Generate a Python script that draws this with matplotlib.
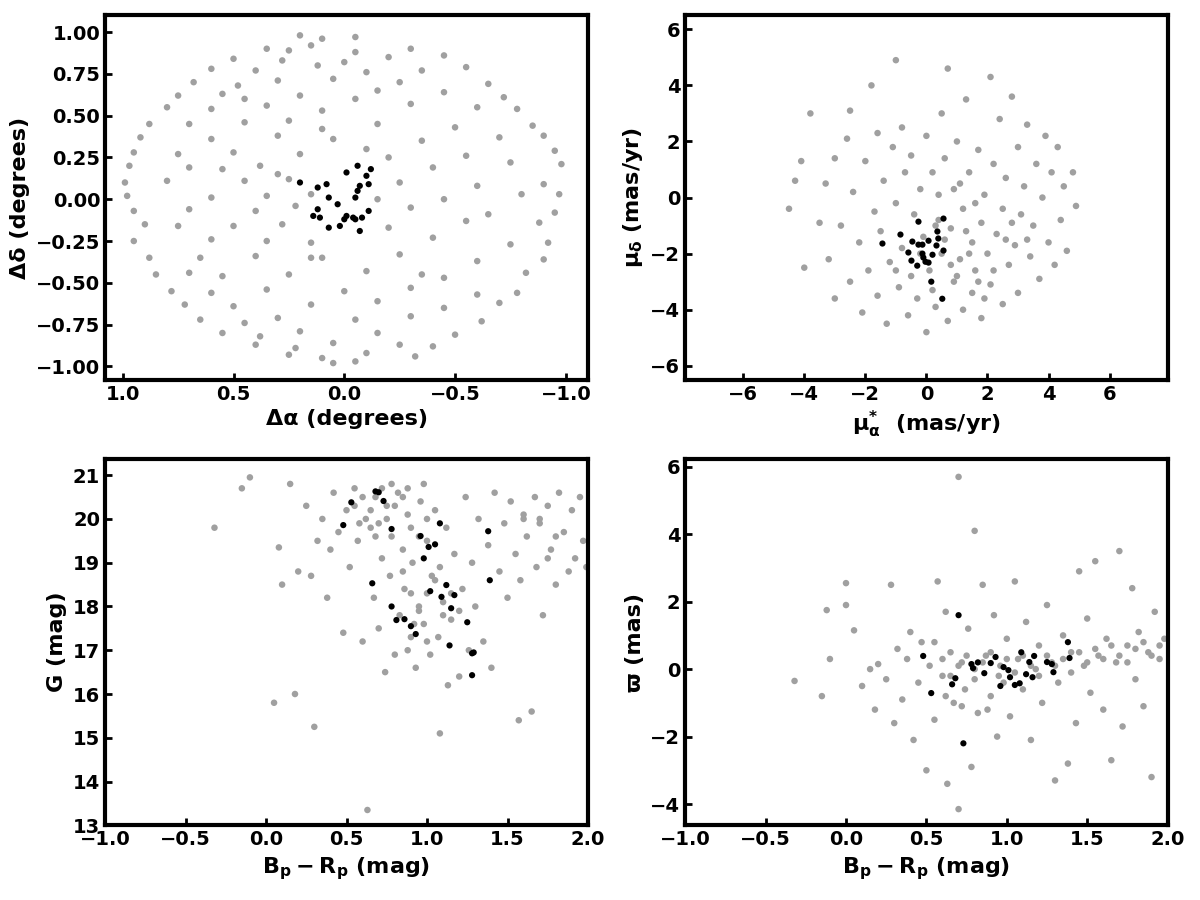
import numpy as np
import matplotlib
matplotlib.use("Agg")
import matplotlib.pyplot as plt

plt.rcParams['font.weight'] = 'bold'
plt.rcParams['axes.labelweight'] = 'bold'
plt.rcParams['mathtext.default'] = 'bf'

# ---------- panel 1: positions (gray field, black members) ----------
pos_field = [
(-0.05,0.97),(0.1,0.96),(0.2,0.98),(-0.3,0.9),(0.25,0.89),(0.15,0.92),(-0.05,0.88),(0.35,0.9),
(0.5,0.84),(-0.45,0.86),(0.28,0.83),(-0.2,0.85),(0.0,0.82),(0.6,0.78),(0.4,0.77),(-0.55,0.79),
(-0.1,0.76),(0.12,0.8),(-0.35,0.77),(0.68,0.7),(0.3,0.71),(-0.65,0.69),(0.05,0.72),(-0.25,0.7),
(0.48,0.68),(0.75,0.62),(0.55,0.63),(-0.72,0.61),(0.2,0.62),(-0.45,0.64),(-0.05,0.6),(0.8,0.55),
(0.35,0.56),(-0.78,0.54),(0.1,0.53),(-0.3,0.57),(0.6,0.54),(-0.6,0.55),(0.88,0.45),(0.45,0.46),
(-0.85,0.44),(0.25,0.47),(-0.15,0.45),(-0.5,0.43),(0.7,0.45),(0.92,0.37),(0.6,0.36),(-0.9,0.38),
(0.05,0.36),(-0.35,0.35),(0.3,0.38),(-0.7,0.37),(0.95,0.28),(0.2,0.27),(-0.95,0.29),(0.5,0.28),
(-0.55,0.26),(-0.1,0.3),(0.75,0.27),(0.97,0.2),(0.7,0.19),(-0.98,0.21),(0.38,0.2),(-0.4,0.19),
(-0.75,0.22),(0.55,0.18),(0.99,0.1),(0.45,0.11),(-0.9,0.09),(0.25,0.12),(-0.25,0.1),(-0.6,0.08),
(0.8,0.11),(0.98,0.02),(0.6,0.01),(-0.97,0.03),(0.35,0.02),(-0.45,0.0),(-0.8,0.03),(0.15,0.03),
(0.95,-0.07),(0.7,-0.06),(-0.95,-0.08),(0.4,-0.07),(-0.3,-0.05),(-0.65,-0.09),(0.22,-0.04),
(0.9,-0.15),(0.5,-0.16),(-0.88,-0.14),(0.28,-0.15),(-0.2,-0.17),(-0.55,-0.13),(0.75,-0.16),
(0.95,-0.25),(0.6,-0.24),(-0.92,-0.26),(0.35,-0.25),(-0.4,-0.23),(-0.75,-0.27),(0.15,-0.26),
(0.88,-0.35),(0.4,-0.34),(-0.9,-0.36),(0.1,-0.35),(-0.25,-0.33),(-0.6,-0.37),(0.65,-0.35),
(0.85,-0.45),(0.55,-0.46),(-0.82,-0.44),(0.25,-0.45),(-0.45,-0.47),(-0.1,-0.43),(0.7,-0.44),
(0.78,-0.55),(0.35,-0.54),(-0.78,-0.56),(0.0,-0.55),(-0.3,-0.53),(-0.6,-0.57),(0.6,-0.56),
(0.72,-0.63),(0.5,-0.64),(-0.7,-0.62),(0.15,-0.63),(-0.45,-0.65),(-0.15,-0.61),(0.65,-0.72),
(0.3,-0.71),(-0.62,-0.73),(-0.05,-0.72),(-0.3,-0.7),(0.45,-0.74),(0.55,-0.8),(0.2,-0.79),
(-0.5,-0.81),(-0.15,-0.8),(0.38,-0.82),(0.4,-0.87),(0.05,-0.86),(-0.4,-0.88),(-0.25,-0.87),
(0.22,-0.89),(0.25,-0.93),(-0.1,-0.92),(-0.32,-0.94),(0.1,-0.95),(0.05,-0.98),(-0.05,-0.97),
(0.45,0.6),(-0.15,0.65),(0.1,0.42),(-0.2,0.25),(0.15,-0.35),(-0.35,-0.45),(0.3,0.15),(-0.15,0.0),
]
mem_dra = [0.20,0.12,0.08,-0.01,-0.06,-0.10,-0.12,-0.11,-0.07,-0.06,-0.05,0.07,0.03,0.12,0.14,0.11,0.07,0.02,0.00,-0.01,-0.04,-0.05,-0.08,-0.11,-0.07]
mem_ddec = [0.10,0.07,0.09,0.16,0.20,0.14,0.18,0.09,0.08,0.05,0.01,0.01,-0.03,-0.06,-0.10,-0.11,-0.17,-0.16,-0.12,-0.10,-0.11,-0.12,-0.11,-0.07,-0.19]

# ---------- panel 2: proper motions ----------
pm_field = [
(-4.5,-0.4),(-4.3,0.6),(-4.1,1.3),(-4.0,-2.5),(-3.8,3.0),(-3.5,-0.9),(-3.3,0.5),(-3.2,-2.2),(-3.0,1.4),
(-3.0,-3.6),(-2.8,-1.0),(-2.6,2.1),(-2.5,3.1),(-2.5,-3.0),(-2.4,0.2),(-2.2,-1.6),(-2.1,-4.1),(-2.0,1.3),
(-1.9,-2.6),(-1.8,4.0),(-1.7,-0.5),(-1.6,2.3),(-1.6,-3.5),(-1.5,-1.2),(-1.4,0.6),(-1.3,-4.5),(-1.2,-2.3),
(-1.1,1.8),(-1.0,4.9),(-1.0,-0.2),(-0.9,-3.2),(-0.8,2.5),(-0.8,-1.8),(-0.7,0.9),(-0.6,-4.2),(-0.5,-2.8),
(-0.5,1.5),(-0.4,-0.6),(-0.3,-3.6),(-0.2,0.3),(-0.1,-1.4),(0.0,2.2),(0.0,-4.8),(0.1,-2.6),(0.2,0.9),
(0.3,-3.9),(0.4,-0.8),(0.5,3.0),(0.5,-2.0),(0.6,1.4),(0.7,4.6),(0.7,-4.4),(0.8,-1.1),(0.9,0.3),(0.9,-3.0),
(1.0,2.0),(1.1,-2.2),(1.2,-0.4),(1.2,-4.0),(1.3,3.5),(1.4,0.9),(1.5,-1.6),(1.5,-3.4),(1.6,-2.6),
(1.7,1.7),(1.8,-0.9),(1.8,-4.3),(1.9,0.1),(2.0,-2.0),(2.1,4.3),(2.1,-3.1),(2.2,1.2),(2.3,-1.3),
(2.4,2.8),(2.5,-3.8),(2.5,-0.4),(2.6,0.7),(2.7,-2.4),(2.8,3.6),(2.9,-1.7),(3.0,1.8),(3.0,-3.4),
(3.1,-0.6),(3.2,0.4),(3.3,2.6),(3.4,-2.1),(3.5,-1.0),(3.6,1.2),(3.7,-2.9),(3.8,0.0),(3.9,2.2),
(4.0,-1.6),(4.1,0.9),(4.2,-2.4),(4.3,1.8),(4.4,-0.8),(4.5,0.4),(4.6,-1.9),(4.8,0.9),(4.9,-0.3),
(0.3,-1.0),(0.6,-1.5),(1.0,-2.8),(1.4,-2.0),(1.7,-3.0),(2.2,-2.6),(0.8,-2.4),(1.3,-1.2),(2.6,-1.5),
(-0.2,-2.0),(0.2,-3.3),(1.9,-3.6),(2.8,-0.9),(1.1,0.5),(-1.0,-2.6),(3.3,-1.5),(0.4,0.1),(1.6,-0.2),
]
mem_pmra = [-1.44,-0.85,-0.26,0.56,-0.46,-0.26,-0.13,-0.59,-0.49,-0.30,-0.13,-0.10,-0.03,0.07,0.07,0.33,0.39,0.36,0.56,0.20,0.16,0.52]
mem_pmdec = [-1.64,-1.32,-0.86,-0.75,-1.57,-1.68,-1.68,-1.96,-2.25,-2.43,-2.00,-2.14,-2.29,-2.32,-1.54,-1.71,-1.46,-1.21,-1.89,-2.04,-3.00,-3.61]

# ---------- panel 3: colour-magnitude ----------
cmd_field = [
(-0.32,19.8),(-0.15,20.7),(-0.1,20.95),(0.05,15.8),(0.08,19.35),(0.1,18.5),(0.15,20.8),(0.18,16.0),
(0.2,18.8),(0.25,20.3),(0.28,18.7),(0.3,15.25),(0.32,19.5),(0.35,20.0),(0.38,18.2),(0.4,19.3),
(0.42,20.6),(0.45,19.7),(0.48,17.4),(0.5,20.2),(0.52,18.9),(0.55,20.7),(0.57,19.5),(0.6,17.2),
(0.62,20.0),(0.63,13.35),(0.65,19.8),(0.67,18.2),(0.68,20.5),(0.7,17.5),(0.72,19.1),(0.74,16.5),
(0.75,20.3),(0.77,18.7),(0.78,19.6),(0.8,16.9),(0.82,20.6),(0.83,17.8),(0.85,19.3),(0.86,18.4),
(0.88,20.1),(0.9,17.3),(0.91,19.0),(0.93,16.6),(0.95,18.0),(0.96,20.4),(0.98,17.6),(1.0,19.5),
(1.02,16.9),(1.03,18.7),(1.05,20.2),(1.07,17.3),(1.08,15.1),(1.1,18.1),(1.12,19.8),(1.13,16.2),
(1.15,17.7),(1.17,19.2),(1.2,16.4),(1.22,18.4),(1.24,20.5),(1.26,17.0),(1.28,19.0),(1.3,18.0),
(1.32,20.0),(1.35,17.2),(1.38,19.4),(1.4,16.6),(1.42,20.6),(1.45,18.8),(1.48,19.9),(1.5,18.2),
(1.52,20.4),(1.55,19.2),(1.57,15.4),(1.58,18.6),(1.6,20.1),(1.62,19.6),(1.65,15.6),(1.67,20.5),
(1.68,18.9),(1.7,19.9),(1.72,17.8),(1.75,20.3),(1.77,19.3),(1.8,18.5),(1.82,20.6),(1.85,19.7),
(1.88,18.8),(1.9,20.2),(1.92,19.1),(1.95,20.5),(1.97,19.5),(1.99,18.9),
(0.55,20.3),(0.6,20.5),(0.65,20.2),(0.7,19.9),(0.75,20.0),(0.8,20.3),(0.85,20.5),(0.9,19.8),
(0.95,19.6),(1.0,20.0),(0.58,19.9),(0.68,19.6),(0.72,20.7),(0.78,20.8),(0.88,20.7),(0.98,20.8),
(0.85,18.8),(0.9,18.3),(0.95,17.9),(1.0,18.3),(1.05,18.6),(1.1,17.8),(0.92,17.6),(1.08,18.9),
(1.15,18.3),(0.88,17.0),(1.0,17.2),(1.2,17.9),(1.6,20.0),(1.7,20.0),(1.8,19.6),(1.75,19.1),
]
mem_bprp = [0.68,0.70,0.53,0.73,0.48,0.78,1.08,0.96,1.01,1.05,0.98,1.38,0.66,1.39,1.02,1.12,1.09,1.17,1.15,0.78,0.81,0.86,0.90,0.93,1.25,1.14,1.29,1.28,1.28]
mem_g = [20.63,20.61,20.38,20.41,19.86,19.77,19.90,19.61,19.36,19.42,19.10,19.72,18.53,18.60,18.35,18.49,18.22,18.26,17.96,18.00,17.69,17.71,17.55,17.37,17.64,17.11,16.95,16.93,16.43]

# ---------- panel 4: parallax ----------
plx_field = [
(-0.32,-0.35),(-0.15,-0.8),(-0.12,1.75),(-0.1,0.3),(0.0,1.9),(0.0,2.55),(0.05,1.15),(0.1,-0.5),
(0.15,0.0),(0.18,-1.2),(0.2,0.15),(0.25,-0.3),(0.28,2.5),(0.3,-1.6),(0.32,0.6),(0.35,-0.9),
(0.38,0.3),(0.4,1.1),(0.42,-2.1),(0.45,-0.4),(0.47,0.8),(0.5,-3.0),(0.52,0.1),(0.55,-1.5),
(0.57,2.6),(0.6,-0.2),(0.62,1.7),(0.63,-3.4),(0.65,0.5),(0.67,-1.0),(0.7,5.7),(0.7,-4.15),
(0.72,0.2),(0.74,-0.6),(0.76,1.2),(0.78,-2.9),(0.8,4.1),(0.8,0.0),(0.82,-1.3),(0.85,2.5),
(0.87,0.4),(0.9,-0.8),(0.92,1.6),(0.94,-2.0),(0.96,0.1),(0.98,-0.4),(1.0,0.9),(1.02,-1.4),
(1.05,2.6),(1.07,0.3),(1.1,-0.6),(1.12,1.4),(1.15,-2.1),(1.18,0.0),(1.2,0.7),(1.22,-1.0),
(1.25,1.9),(1.28,0.2),(1.3,-3.3),(1.32,-0.4),(1.35,1.0),(1.38,-2.8),(1.4,0.5),(1.43,-1.6),
(1.45,2.9),(1.48,0.1),(1.5,1.5),(1.52,-0.7),(1.55,3.2),(1.57,0.4),(1.6,-1.2),(1.62,0.9),
(1.65,-2.7),(1.68,0.2),(1.7,3.5),(1.72,-1.7),(1.75,0.7),(1.78,2.4),(1.8,-0.3),(1.82,1.1),
(1.85,-1.1),(1.88,0.5),(1.9,-3.2),(1.92,1.7),(1.95,0.3),(1.98,0.9),
(0.6,0.3),(0.65,-0.2),(0.7,0.1),(0.75,0.4),(0.8,-0.3),(0.85,0.2),(0.9,0.5),(0.95,-0.2),
(1.0,0.3),(1.05,-0.1),(1.1,0.4),(1.15,0.1),(1.2,-0.2),(1.25,0.4),(1.3,0.1),(1.35,0.3),
(1.4,-0.1),(1.45,0.5),(1.5,0.2),(1.55,0.6),(1.6,0.3),(1.65,0.7),(1.7,0.4),(1.75,0.2),
(1.8,0.6),(1.85,0.8),(1.9,0.4),(1.95,0.7),(0.55,0.8),(0.62,-0.8),(0.72,-1.1),(0.88,-1.2),
]
mem_bprp4 = [0.70,0.48,0.53,0.73,0.78,0.79,0.82,0.68,0.66,0.86,0.90,0.93,0.96,0.98,1.01,1.02,1.05,1.08,1.09,1.14,1.12,1.16,1.17,1.25,1.28,1.29,1.38,1.39]
mem_plx = [1.60,0.39,-0.71,-2.20,0.15,0.03,0.20,-0.27,-0.45,-0.12,0.18,0.36,-0.50,0.06,-0.03,-0.24,-0.47,-0.42,0.50,0.21,-0.15,-0.24,0.39,0.21,0.15,-0.09,0.80,0.33]

GRAY = '#a0a0a0'
fig = plt.figure(figsize=(12, 9), dpi=100)
axes = [fig.add_axes([0.0875, 0.578, 0.4025, 0.405]),
        fig.add_axes([0.571, 0.578, 0.402, 0.405]),
        fig.add_axes([0.0875, 0.083, 0.4025, 0.407]),
        fig.add_axes([0.571, 0.083, 0.402, 0.407])]

def style(ax):
    for s in ax.spines.values():
        s.set_linewidth(3)
    ax.tick_params(direction='in', width=2, length=5, labelsize=14)
    for lab in ax.get_xticklabels() + ax.get_yticklabels():
        lab.set_fontweight('bold')

def draw(ax, field, mx, my):
    f = np.array(field)
    ax.scatter(f[:, 0], f[:, 1], s=22, c=GRAY, edgecolors='none', zorder=2)
    ax.scatter(mx, my, s=20, c='black', edgecolors='none', zorder=3)

ax = axes[0]
draw(ax, pos_field, mem_dra, mem_ddec)
ax.set_xlim(1.08, -1.1); ax.set_ylim(-1.08, 1.1)
ax.set_xticks([1.0, 0.5, 0.0, -0.5, -1.0])
ax.set_yticks(np.arange(-1.0, 1.01, 0.25))
ax.set_xlabel('Δα (degrees)', fontsize=16, fontweight='bold')
ax.set_ylabel('Δδ (degrees)', fontsize=16, fontweight='bold')

ax = axes[1]
draw(ax, pm_field, mem_pmra, mem_pmdec)
ax.set_xlim(-7.9, 7.9); ax.set_ylim(-6.5, 6.5)
ax.set_xticks([-6, -4, -2, 0, 2, 4, 6]); ax.set_yticks([-6, -4, -2, 0, 2, 4, 6])
ax.set_xlabel(r'$\mathbf{\mu_{\alpha}^{*}}$  (mas/yr)', fontsize=16, fontweight='bold')
ax.set_ylabel(r'$\mathbf{\mu_{\delta}}$ (mas/yr)', fontsize=16, fontweight='bold')

ax = axes[2]
draw(ax, cmd_field, mem_bprp, mem_g)
ax.set_xlim(-1.0, 2.0); ax.set_ylim(13, 21.37)
ax.set_yticks(range(13, 22))
ax.set_xlabel(r'$\mathbf{B_p - R_p}$ (mag)', fontsize=16, fontweight='bold')
ax.set_ylabel('G (mag)', fontsize=16, fontweight='bold')

ax = axes[3]
draw(ax, plx_field, mem_bprp4, mem_plx)
ax.set_xlim(-1.0, 2.0); ax.set_ylim(-4.63, 6.23)
ax.set_yticks([-4, -2, 0, 2, 4, 6])
ax.set_xlabel(r'$\mathbf{B_p - R_p}$ (mag)', fontsize=16, fontweight='bold')
ax.set_ylabel('ϖ (mas)', fontsize=16, fontweight='bold')

for ax in axes:
    style(ax)

fig.savefig('out.png', dpi=100)
